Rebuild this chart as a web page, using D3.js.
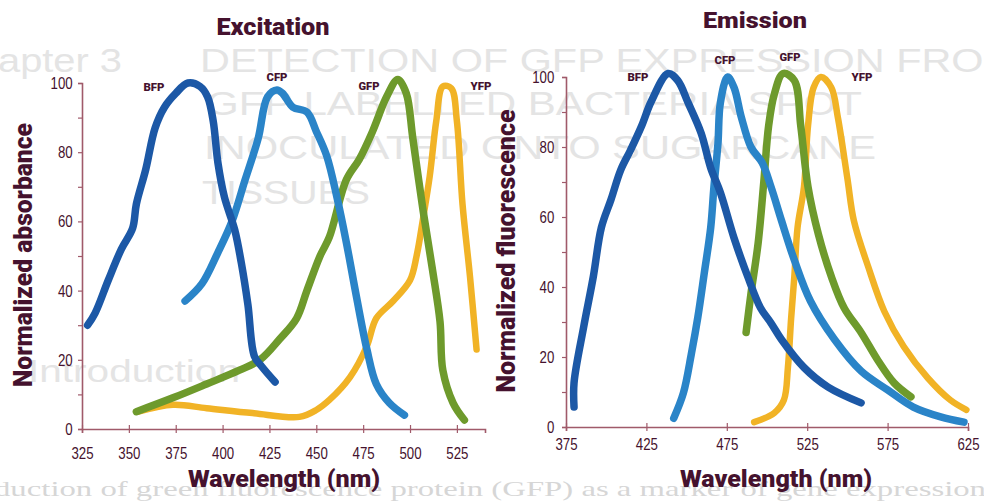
<!DOCTYPE html>
<html>
<head>
<meta charset="utf-8">
<script src="https://cdn.jsdelivr.net/npm/d3@7"></script>
<style>
  body { margin: 0; background: #fff; }
  svg { display: block; }
  .cond { font-family: Roboto, "Liberation Sans", sans-serif; }
</style>
</head>
<body>
<div id="chart"></div>
<script>
// 数据：激发光谱 (wavelength nm, normalized value)
const exBFP = [[328,30],[332,33.5],[339,43],[346,52],[352,58],[354,65],[359,75],[364,87],[369,93],[375,97],[381.5,100],[388,99],[392,96],[395,89],[397.5,77],[401,67],[406.5,57.5],[410,48],[413.5,36],[417,21],[421,18],[428,13.6]];
const exCFP = [[380,37],[389,42],[397.5,51],[405,60],[412,72],[419,84],[424,96],[429,98],[432,97],[437.5,93],[445,91.6],[450,86],[455.5,79],[461,67],[466,54],[471.5,38],[477,23],[482,13],[489,7.5],[497,4]];
const exGFP = [[354,5],[373.5,9],[391.5,13],[409,17],[420,20],[430.5,26],[439.5,32],[445,40],[452,50],[457,55.5],[466,72],[473,78],[480,86],[487.5,96],[493.5,101],[498,97],[501.5,84],[507,63],[512,46],[516,31],[517.5,17],[523,7.5],[529,2.6]];
const exYFP = [[355,5],[373.5,7],[391.5,6],[416,4.6],[441,3.5],[450,5.5],[457,8.4],[468,15],[477,24],[482,32],[491,37],[500,43],[503.5,50],[507,61],[510.5,73],[514,89],[517.5,99],[522,98.5],[525,89],[528,65],[532,44],[535.5,23]];

// 数据：发射光谱
const emBFP = [[380,5.7],[380,12.6],[386,28.6],[392,43],[397,57],[403,65],[409,73.4],[415,79],[422,86],[428,93],[438.5,101],[444.5,99],[451,92.6],[459,84],[465,74],[471,67],[479.5,54],[488,43],[496,34],[502.5,29.7],[509,25],[523,17],[538,11.4],[558.5,6.9]];
const emCFP = [[442,2.5],[448,9.7],[453,21],[457,31.4],[461,44],[465,57],[467,68.6],[469.5,81],[471,92.6],[475.5,100],[479.5,97],[484,88.6],[490,80],[497,75.5],[502.5,68.6],[509,59],[517,47.7],[527,36],[542,25],[558.5,16],[575,10.6],[591,5.7],[608,2.9],[622.5,1.4]];
const emGFP = [[487,27],[490,38],[494.5,52.6],[498,70],[501,86],[504.5,95],[510,101],[517,99],[521,86],[525.5,68.6],[532,55],[540,43],[548,34],[558.5,27],[569,19],[579,12.6],[589.5,8.6]];
const emYFP = [[492,1.4],[504.5,4],[510.5,7.7],[513,17],[515,31],[517,43],[519,57],[523,68.6],[525.5,86],[529,97],[533.5,100],[540,97],[544,88.6],[550,71],[554,59],[563,45.7],[573,33],[585,23],[600,14],[614,7.7],[624,4.9]];

// 刻度
const exXTicks = [325, 350, 375, 400, 425, 450, 475, 500, 525];
const emXTicks = [375, 425, 475, 525, 575, 625];
const yTicks = [0, 10, 20, 30, 40, 50, 60, 70, 80, 90, 100];
const seriesNames = ["BFP", "CFP", "GFP", "YFP"];

const colors = { BFP: "#1c58a6", CFP: "#2a84c8", GFP: "#6e9a2c", YFP: "#f1b326" };
const maroon = "#45122e";
const axisCol = "#a05a6a";

const W = 984, H = 503;
const svg = d3.select("#chart").append("svg")
    .attr("width", W)
    .attr("height", H);

// 背景中隐约可见的扫描页文字
const bg = svg.append("g").attr("font-family", "Liberation Sans, Arial, sans-serif").attr("fill", "#e4e4e4");
[
  { t: "apter 3", x: -2, y: 72, s: 33, w: 124 },
  { t: "DETECTION OF GFP EXPRESSION FROM", x: 200, y: 72, s: 33, w: 818 },
  { t: "GFP LABELLED BACTERIA SPOT", x: 206, y: 115, s: 33, w: 656 },
  { t: "INOCULATED ONTO SUGARCANE", x: 204, y: 159, s: 33, w: 672 },
  { t: "TISSUES", x: 202, y: 204, s: 33, w: 168 },
  { t: "Introduction", x: 28, y: 382, s: 32, w: 212 }
].forEach(d => {
  bg.append("text").attr("x", d.x).attr("y", d.y)
    .attr("font-size", d.s)
    .attr("textLength", d.w).attr("lengthAdjust", "spacingAndGlyphs")
    .text(d.t);
});
svg.append("text")
    .attr("x", -6).attr("y", 496)
    .attr("font-family", "Liberation Serif, serif")
    .attr("font-size", 22)
    .attr("fill", "#d6d6d6")
    .attr("textLength", 992).attr("lengthAdjust", "spacingAndGlyphs")
    .text("duction of green fluorescence protein (GFP) as a marker of gene expression");

function drawPanel(cfg) {
  const x = d3.scaleLinear().domain(cfg.xDomain).range(cfg.xRange);
  const y = d3.scaleLinear().domain([0, 100]).range(cfg.yRange);
  const g = svg.append("g").attr("class", "cond");

  // 坐标轴
  const xAxis = g.append("g")
      .attr("transform", `translate(0,${cfg.yRange[0]})`)
      .call(d3.axisBottom(x).tickValues(cfg.xTicks).tickSize(4).tickPadding(cfg.xPad).tickFormat(d3.format("d")));
  xAxis.selectAll("line").attr("y1", -4);
  const yAxis = g.append("g")
      .attr("transform", `translate(${cfg.xRange[0]},0)`)
      .call(d3.axisLeft(y).tickValues(yTicks).tickSize(4).tickPadding(cfg.yPad)
        .tickFormat(d => d % 20 === 0 ? d : ""));
  [xAxis, yAxis].forEach(a => {
    a.select(".domain").attr("stroke", axisCol).attr("stroke-width", 1.6);
    a.selectAll(".tick line").attr("stroke", axisCol).attr("stroke-width", 1.2);
    a.selectAll("text").attr("fill", maroon).attr("font-size", 17)
      .attr("font-weight", 500)
      .attr("font-family", "inherit")
      .attr("transform", "scale(0.78,1)");
  });
  xAxis.selectAll("text").attr("dy", "0.72em");

  // 曲线
  const line = d3.line()
      .x(d => x(d[0]))
      .y(d => y(d[1]))
      .curve(d3.curveCatmullRom.alpha(0.5));
  ["YFP", "GFP", "CFP", "BFP"].forEach(name => {
    g.append("path")
      .datum(cfg.data[name])
      .attr("fill", "none")
      .attr("stroke", colors[name])
      .attr("stroke-width", name === "YFP" ? 6.5 : 7.5)
      .attr("stroke-linejoin", "round")
      .attr("stroke-linecap", "round")
      .attr("d", line);
  });

  // 系列标注
  seriesNames.forEach(name => {
    const p = cfg.labels[name];
    g.append("text")
      .attr("x", p[0]).attr("y", p[1])
      .attr("text-anchor", "middle")
      .attr("font-size", 10)
      .attr("font-weight", 900)
      .attr("fill", maroon)
      .attr("textLength", 21).attr("lengthAdjust", "spacingAndGlyphs")
      .text(name);
  });

  // 标题与轴标题
  const bold = (t, px, py, size, len) => g.append("text")
    .attr("x", px).attr("y", py)
    .attr("text-anchor", "middle")
    .attr("font-size", size).attr("font-weight", 900).attr("fill", maroon)
    .attr("textLength", len).attr("lengthAdjust", "spacingAndGlyphs")
    .text(t);
  bold(cfg.title[0], cfg.title[1], cfg.title[2], cfg.title[3], cfg.title[4]);
  bold("Wavelength (nm)", cfg.xLabel[0], 487, 24, cfg.xLabel[1]);
  bold(cfg.yLabel[0], 0, 0, 25, cfg.yLabel[3])
    .attr("transform", `translate(${cfg.yLabel[1]},${cfg.yLabel[2]}) rotate(-90)`);
}

drawPanel({
  xDomain: [325, 540], xRange: [82, 485], yRange: [429, 83],
  xTicks: exXTicks, xPad: 14, yPad: 8,
  data: { BFP: exBFP, CFP: exCFP, GFP: exGFP, YFP: exYFP },
  labels: { BFP: [154, 91], CFP: [277, 81], GFP: [369, 90], YFP: [481, 90] },
  title: ["Excitation", 273, 35, 24, 113],
  xLabel: [284, 192],
  yLabel: ["Normalized absorbance", 32, 255, 264]
});

drawPanel({
  xDomain: [375, 625], xRange: [566, 968], yRange: [427, 77],
  xTicks: emXTicks, xPad: 7, yPad: 11,
  data: { BFP: emBFP, CFP: emCFP, GFP: emGFP, YFP: emYFP },
  labels: { BFP: [638, 81], CFP: [725, 64], GFP: [790, 61], YFP: [862, 81] },
  title: ["Emission", 755, 28, 22, 104],
  xLabel: [776, 192],
  yLabel: ["Normalized fluorescence", 515, 251, 283]
});
</script>
</body>
</html>
